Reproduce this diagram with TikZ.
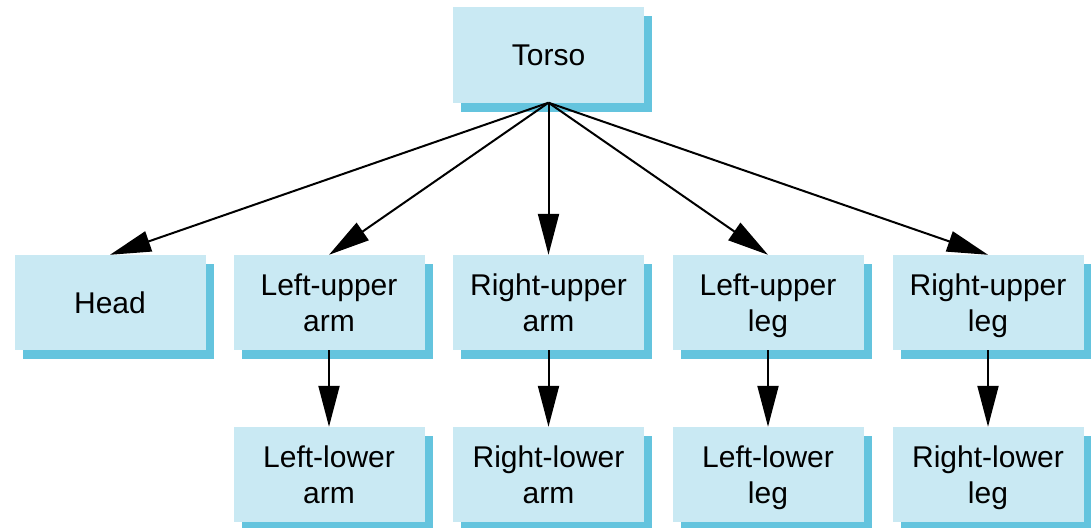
\documentclass[tikz,border=0pt]{standalone}
\usepackage{fontspec}
\setmainfont{Liberation Sans}
\usetikzlibrary{arrows.meta,shadows}
\definecolor{boxfill}{RGB}{201,233,243}
\definecolor{boxshadow}{RGB}{100,196,222}
\newcommand{\pstrut}{\rule[-9pt]{0pt}{39pt}}
\newcommand{\hstrut}{\rule{0pt}{30pt}}
\newcommand{\dstrut}{\rule[-9pt]{0pt}{9pt}}
\tikzset{
  part/.style={rectangle, fill=boxfill, minimum width=191pt, minimum height=95pt,
    inner sep=0pt, align=center, font=\fontsize{30}{36}\selectfont,
    drop shadow={shadow xshift=8pt, shadow yshift=-9pt, fill=boxshadow, opacity=1}},
  arr/.style={line width=2pt, -{Triangle[length=41pt,width=21pt]}}
}
\begin{document}
\begin{tikzpicture}[x=1pt,y=-1pt]
\useasboundingbox (0,0) rectangle (1091,527);
\node[part] (torso) at (548.5,55) {\pstrut Torso};
\node[part] (head) at (110,302.5) {\pstrut Head};
\node[part] (lua) at (329,302.5) {\hstrut Left-upper\\arm\dstrut};
\node[part] (rua) at (548.5,302.5) {\hstrut Right-upper\\arm\dstrut};
\node[part] (lul) at (768,302.5) {\hstrut Left-upper\\leg\dstrut};
\node[part] (rul) at (988,302.5) {\hstrut Right-upper\\leg\dstrut};
\node[part] (lla) at (329,474.5) {\hstrut Left-lower\\arm\dstrut};
\node[part] (rla) at (548.5,474.5) {\hstrut Right-lower\\arm\dstrut};
\node[part] (lll) at (768,474.5) {\hstrut Left-lower\\leg\dstrut};
\node[part] (rll) at (988,474.5) {\hstrut Right-lower\\leg\dstrut};
\foreach \t in {head,lua,rua,lul,rul}
  \draw[arr] (torso.south) -- (\t.north);
\draw[arr] (lua) -- (lla);
\draw[arr] (rua) -- (rla);
\draw[arr] (lul) -- (lll);
\draw[arr] (rul) -- (rll);
\end{tikzpicture}
\end{document}
